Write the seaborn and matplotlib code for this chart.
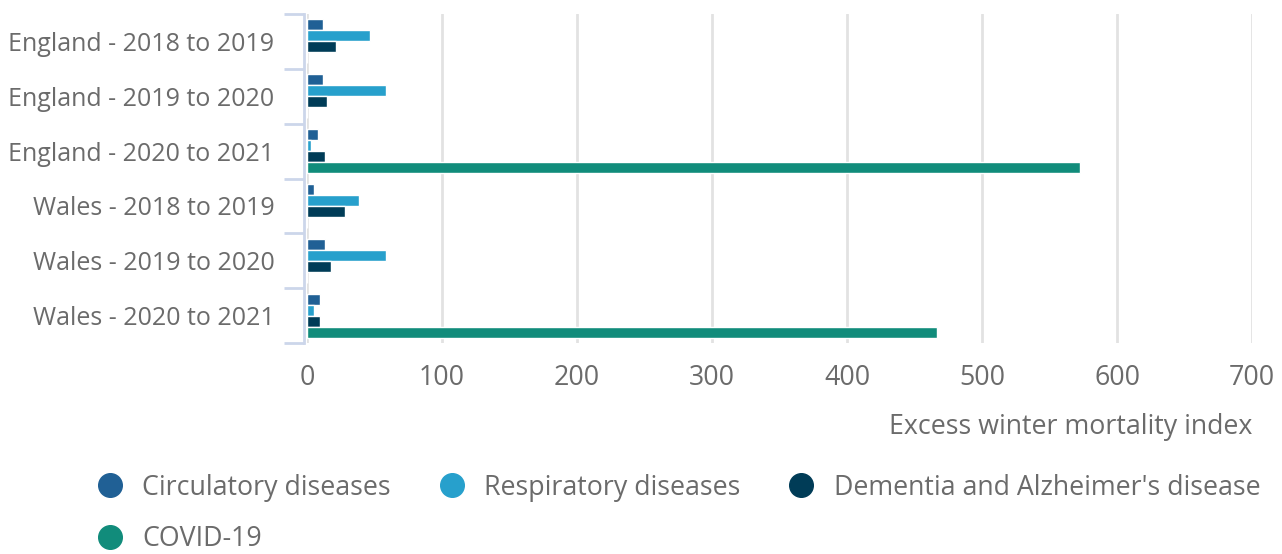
import pandas as pd
import seaborn as sns
import matplotlib.pyplot as plt
from matplotlib.lines import Line2D

periods = ["England - 2018 to 2019", "England - 2019 to 2020", "England - 2020 to 2021",
           "Wales - 2018 to 2019", "Wales - 2019 to 2020", "Wales - 2020 to 2021"]
causes = ["Circulatory diseases", "Respiratory diseases",
          "Dementia and Alzheimer's disease", "COVID-19"]
circulatory = [11.6, 11.6, 8.1, 4.9, 13.0, 9.9]
respiratory = [46.4, 58.2, 3.2, 38.2, 58.2, 4.9]
dementia = [21.5, 14.8, 13.0, 28.1, 18.0, 9.9]
covid = [0, 0, 572.6, 0, 0, 466.9]
colors = ["#206095", "#27a0cc", "#003c57", "#118c7b"]

rows = []
for cause, vals in zip(causes, [circulatory, respiratory, dementia, covid]):
    for p, v in zip(periods, vals):
        rows.append({"period": p, "cause": cause, "value": v})
df = pd.DataFrame(rows)

sns.set_style("white")
plt.rcParams["font.family"] = ["Open Sans", "DejaVu Sans"]
txt = "#6b6b6b"
fs = 19.3

fig = plt.figure(figsize=(12.82, 5.54), dpi=100)
ax = fig.add_axes([307 / 1282, 1 - 343 / 554, 945 / 1282, 329 / 554])

sns.barplot(data=df, y="period", x="value", hue="cause", order=periods,
            hue_order=causes, palette=colors, orient="h", width=0.8,
            saturation=1, ax=ax, legend=False)

ax.set_xlim(0, 700)
ax.set_ylim(len(periods) - 0.5, -0.5)
ax.set_xticks(range(0, 701, 100))
ax.grid(axis="x", color="#e2e2e2", lw=2)
ax.set_axisbelow(True)
for s in ["top", "right", "bottom"]:
    ax.spines[s].set_visible(False)
ax.spines["left"].set_color("#ccd6ea")
ax.spines["left"].set_linewidth(2)
ax.spines["left"].set_position(("outward", 2))

# bracket-like ticks at the category boundaries, labels in between
ax.set_yticks([i - 0.5 for i in range(len(periods) + 1)])
ax.set_yticklabels([])
ax.tick_params(axis="y", which="major", left=True, length=14.5, width=2, color="#ccd6ea")
ax.set_yticks(range(len(periods)), minor=True)
ax.set_yticklabels(periods, minor=True)
ax.tick_params(axis="y", which="minor", left=True, length=0, pad=21.5,
               labelsize=18, labelcolor=txt)
ax.tick_params(axis="x", length=0, pad=15, labelsize=fs, labelcolor=txt)

ax.set_ylabel("")
ax.set_xlabel("Excess winter mortality index", loc="right", fontsize=fs,
              color=txt, labelpad=15)

handles = [Line2D([], [], marker="o", ls="", markersize=17, color=c) for c in colors]
order = [0, 3, 1, 2]
fig.legend([handles[i] for i in order], [causes[i] for i in order],
           ncol=3, loc="lower left", bbox_to_anchor=(0.046, -0.042), frameon=False,
           fontsize=fs, labelcolor=txt, handletextpad=0.2, columnspacing=1.28,
           labelspacing=0.88)

fig.savefig("out.png", dpi=100)
